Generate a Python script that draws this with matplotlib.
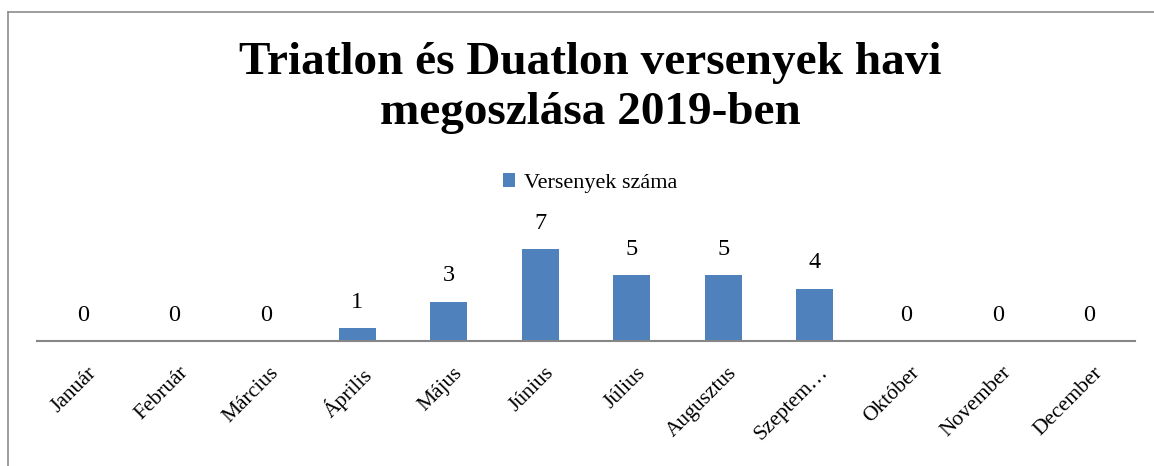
import matplotlib
matplotlib.use("Agg")
import matplotlib.pyplot as plt
from matplotlib.lines import Line2D
from matplotlib.transforms import ScaledTranslation

months = ["Január", "Február", "Március", "Április", "Május", "Június",
          "Július", "Augusztus", "Szeptem…", "Október", "November", "December"]
values = [0, 0, 0, 1, 3, 7, 5, 5, 4, 0, 0, 0]
series_name = "Versenyek száma"
title = "Triatlon és Duatlon versenyek havi\nmegoszlása 2019-ben"

W, H = 1154, 466
fig = plt.figure(figsize=(W / 100, H / 100), dpi=100)
plt.rcParams['font.family'] = ['Liberation Serif', 'DejaVu Serif']

ax = fig.add_axes([37 / W, 1 - 341 / H, (1135 - 37) / W, (341 - 236) / H])
x = list(range(len(months)))
bars = ax.bar(x, values, width=0.4, color="#4F81BD", label=series_name, zorder=2)
ax.set_xlim(-0.5, len(months) - 0.5)
ax.set_ylim(0, 8)
ax.set_yticks([])
for s in ["left", "right", "top"]:
    ax.spines[s].set_visible(False)
ax.spines["bottom"].set_color("#868686")
ax.spines["bottom"].set_linewidth(1.5)
ax.set_xticks(x)
ax.set_xticklabels(months, rotation=45, ha="right", va="top", rotation_mode="anchor",
                   fontsize=15.5)
ax.tick_params(axis="x", length=0, pad=16)
shift = ScaledTranslation(4 / 100, 0, fig.dpi_scale_trans)
for lab in ax.get_xticklabels():
    lab.set_transform(lab.get_transform() + shift)

for xi, v in zip(x, values):
    ax.annotate(str(v), (xi, v), xytext=(0, 18.5), textcoords="offset points",
                ha="center", va="center", fontsize=17.5)

fig.text(590 / W, 1 - 88 / H, title, ha="center", va="center", fontsize=34,
         fontweight="bold", linespacing=1.25)

leg = fig.legend(handles=[bars], labels=[series_name], loc="center",
                 bbox_to_anchor=(590 / W, 1 - 183 / H), frameon=False, fontsize=16,
                 handlelength=0.55, handleheight=0.55, handletextpad=0.4)

fig.add_artist(Line2D([8 / W, 8 / W], [0, 1 - 12 / H], transform=fig.transFigure,
                      color="#8c8c8c", lw=1.2))
fig.add_artist(Line2D([8 / W, 1], [1 - 12 / H, 1 - 12 / H], transform=fig.transFigure,
                      color="#8c8c8c", lw=1.2))

fig.savefig("out.png", dpi=100)
